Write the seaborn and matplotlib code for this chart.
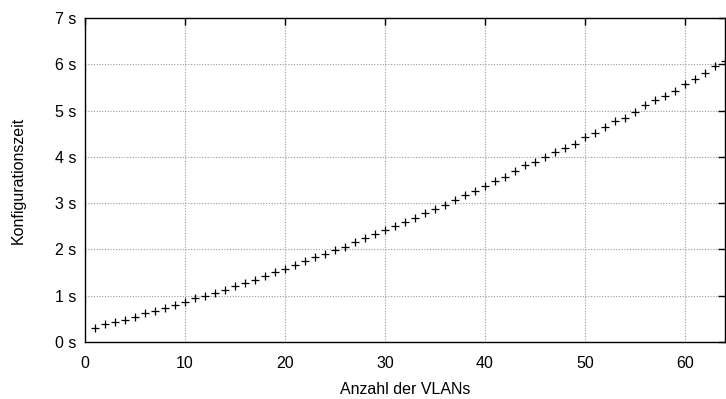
import matplotlib
matplotlib.use("Agg")
import matplotlib.pyplot as plt
import seaborn as sns
import pandas as pd

vlans = list(range(1, 65))
config_time = [0.30, 0.39, 0.44, 0.48, 0.55, 0.62, 0.67, 0.73, 0.80, 0.87,
               0.94, 1.00, 1.06, 1.12, 1.21, 1.28, 1.35, 1.43, 1.51, 1.58,
               1.67, 1.76, 1.83, 1.90, 1.99, 2.06, 2.16, 2.25, 2.33, 2.42,
               2.51, 2.59, 2.68, 2.79, 2.88, 2.97, 3.07, 3.17, 3.27, 3.37,
               3.48, 3.56, 3.70, 3.82, 3.89, 4.00, 4.10, 4.20, 4.28, 4.43,
               4.51, 4.64, 4.77, 4.85, 4.96, 5.12, 5.23, 5.32, 5.43, 5.57,
               5.69, 5.82, 5.97, 6.08]
x_ticks = [0, 10, 20, 30, 40, 50, 60]
y_ticks = [0, 1, 2, 3, 4, 5, 6, 7]
y_tick_labels = ["0 s", "1 s", "2 s", "3 s", "4 s", "5 s", "6 s", "7 s"]

df = pd.DataFrame({"vlans": vlans, "time": config_time})

sns.set_theme(style="white")
plt.rcParams["font.family"] = ["Liberation Sans", "DejaVu Sans"]

fig = plt.figure(figsize=(7.26, 3.99), dpi=100)
ax = fig.add_axes([85 / 726, 57 / 399, 640 / 726, 324 / 399])

sns.scatterplot(data=df, x="vlans", y="time", marker="+", color="black",
                s=38, linewidth=0.9, ax=ax, zorder=3, clip_on=False)

ax.set_xlim(0, 64)
ax.set_ylim(0, 7)
ax.set_xticks(x_ticks)
ax.set_yticks(y_ticks)
ax.set_yticklabels(y_tick_labels)
ax.grid(True, color="#999999", linestyle=(0, (1, 1.5)), linewidth=0.8)
ax.tick_params(direction="in", length=5, width=1, colors="black",
               top=True, right=True, labelsize=11.5)
ax.tick_params(axis="x", pad=10)
ax.tick_params(axis="y", pad=6)
for sp in ax.spines.values():
    sp.set_color("black")
    sp.set_linewidth(1.0)

ax.set_xlabel("Anzahl der VLANs", fontsize=11.5, labelpad=8, color="black")
ax.set_ylabel("Konfigurationszeit", fontsize=11.5, labelpad=21, color="black")

fig.savefig("out.png", dpi=100)
